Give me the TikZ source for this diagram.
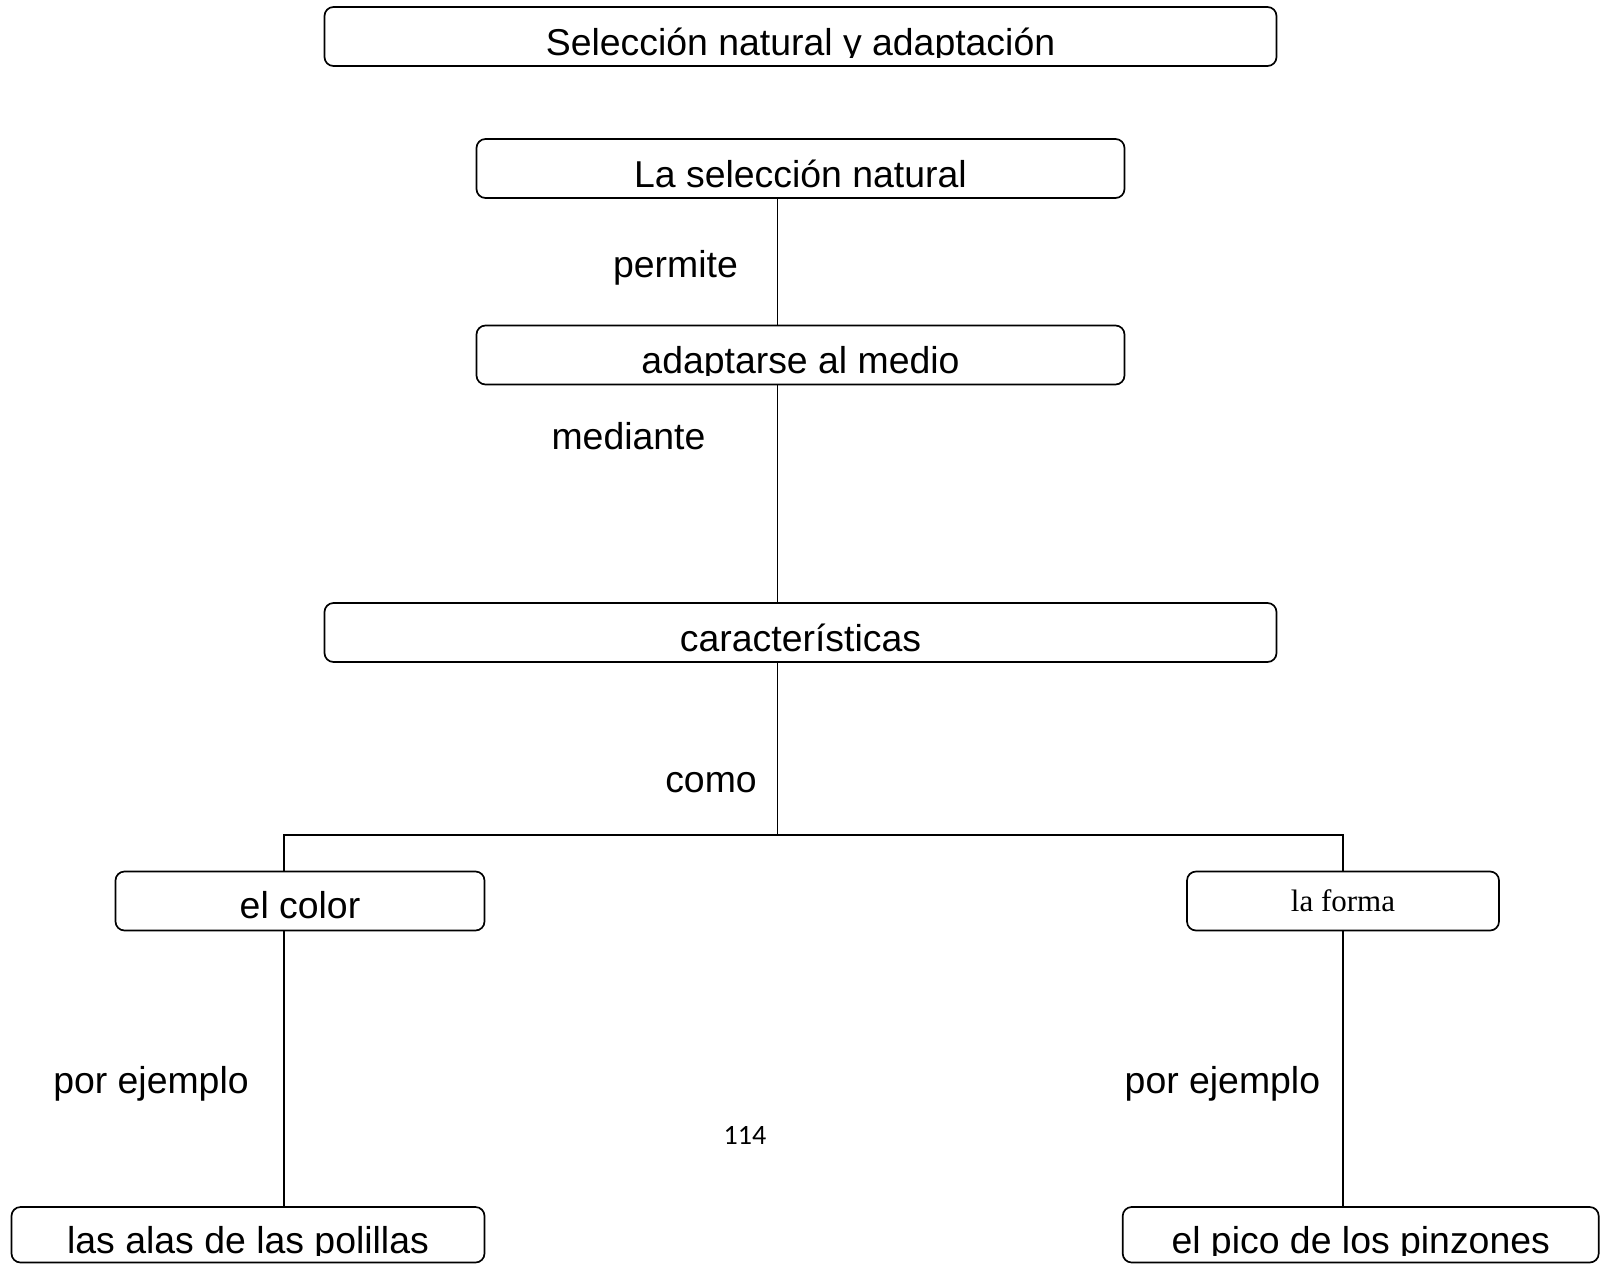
\documentclass[tikz,border=0pt]{standalone}
\usepackage{fontspec}
\setmainfont{Liberation Sans}
\newfontfamily\timesf{Liberation Serif}
\newfontfamily\calib{Carlito}
\begin{document}
\begin{tikzpicture}[x=1pt,y=-1pt,
  cbox/.style={draw,line width=1.7pt,rounded corners=9pt,inner sep=0pt},
  lbl/.style={font=\fontsize{37.4}{40}\selectfont,anchor=base,inner sep=0pt},
  conn/.style={line width=1.7pt}]
\useasboundingbox[fill=white] (0,0) rectangle (1600,1264);
% boxes
\node[cbox,minimum width=952pt,minimum height=59pt] (b1) at (800.5,36.5) {};
\node[cbox,minimum width=648pt,minimum height=59pt] (b2) at (800.5,168.5) {};
\node[cbox,minimum width=648pt,minimum height=59pt] (b3) at (800.5,355) {};
\node[cbox,minimum width=952pt,minimum height=59pt] (b4) at (800.5,632.5) {};
\node[cbox,minimum width=369pt,minimum height=59pt] (b5) at (300,901) {};
\node[cbox,minimum width=312pt,minimum height=59pt] (b6) at (1343,901) {};
\node[cbox,minimum width=473pt,minimum height=55.5pt] (b7) at (248,1234.75) {};
\node[cbox,minimum width=476pt,minimum height=55.5pt] (b8) at (1360.7,1234.75) {};
% box texts (clipped just below baseline)
\begin{scope}\clip (324,7) rectangle (1277,57);
\node[lbl] (t1) at (800.5,55) {Selección natural y adaptación};\end{scope}
\begin{scope}\clip (476,139) rectangle (1125,189);
\node[lbl] (t2) at (800.5,187) {La selección natural};\end{scope}
\begin{scope}\clip (476,325) rectangle (1125,375.5);
\node[lbl] (t3) at (800.5,373.5) {adaptarse al medio};\end{scope}
\begin{scope}\clip (324,603) rectangle (1277,653);
\node[lbl] (t4) at (800.5,651) {características};\end{scope}
\begin{scope}\clip (115,871) rectangle (485,920);
\node[lbl] (t5) at (300,918) {el color};\end{scope}
\node[font=\timesf\fontsize{31}{34}\selectfont,anchor=base,inner sep=0pt] (t6) at (1343,911) {la forma};
\begin{scope}\clip (11,1207) rectangle (485,1255);
\node[lbl] (t7) at (248,1253) {las alas de las polillas};\end{scope}
\begin{scope}\clip (1122,1207) rectangle (1599,1255);
\node[lbl] (t8) at (1360.7,1253) {el pico de los pinzones};\end{scope}
% connector labels
\node[lbl] (l1) at (675.5,277.5) {permite};
\node[lbl] (l2) at (628.5,449) {mediante};
\node[lbl] (l3) at (711,792) {como};
\node[lbl] (l4) at (151,1093) {por ejemplo};
\node[lbl] (l5) at (1222.4,1093) {por ejemplo};
\node[font=\calib\fontsize{28}{32}\selectfont,anchor=base,inner sep=0pt] (pg) at (745,1144) {114};
% connectors
\coordinate (xm) at (777.5,0);
\coordinate (j) at (777.5,834.7);
\coordinate (jl) at (283.7,834.7);
\coordinate (jr) at (1343,834.7);
\draw[conn] (xm |- b2.south) -- (xm |- b3.north);
\draw[conn] (xm |- b3.south) -- (xm |- b4.north);
\draw[conn] (xm |- b4.south) -- (j);
\draw[conn] (jl |- b5.north) -- (jl) -- (j) -- (jr) -- (b6.north);
\draw[conn] (jl |- b5.south) -- (jl |- b7.north);
\draw[conn] (b6.south) -- (jr |- b8.north);
\end{tikzpicture}
\end{document}
